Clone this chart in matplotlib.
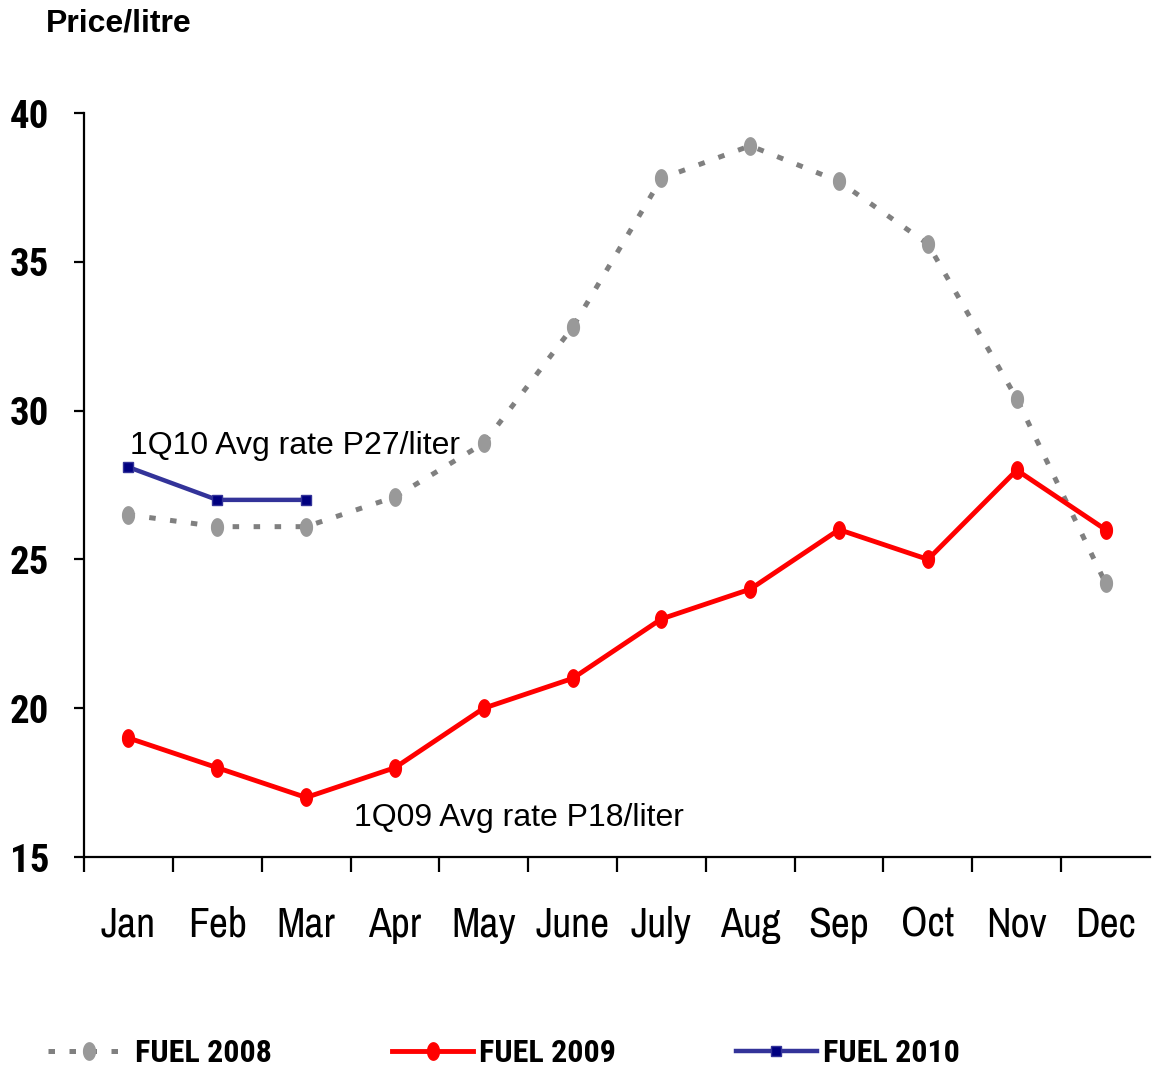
import numpy as np
import matplotlib
matplotlib.use('Agg')
import matplotlib.pyplot as plt
from matplotlib.path import Path

months = ['Jan', 'Feb', 'Mar', 'Apr', 'May', 'June', 'July', 'Aug', 'Sep', 'Oct', 'Nov', 'Dec']
fuel_2008 = [26.5, 26.1, 26.1, 27.1, 28.9, 32.8, 37.8, 38.9, 37.7, 35.6, 30.4, 24.2]
fuel_2009 = [19, 18, 17, 18, 20, 21, 23, 24, 26, 25, 28, 26]
fuel_2010 = [28.1, 27, 27]
yticks = [15, 20, 25, 30, 35, 40]

NARROW = ['Liberation Sans Narrow', 'Archivo Narrow', 'Roboto Condensed', 'DejaVu Sans']
NARROW_BOLD = ['Liberation Sans Narrow', 'Roboto Condensed', 'Barlow Semi Condensed', 'DejaVu Sans']
plt.rcParams['font.family'] = ['Liberation Sans', 'DejaVu Sans']

# tall oval marker like the spreadsheet ones
t = np.linspace(0, 2 * np.pi, 40)
oval = Path(np.column_stack([0.68 * np.cos(t), np.sin(t)]), closed=True)

fig = plt.figure(figsize=(11.58, 10.71), dpi=100)
ax = fig.add_axes([84 / 1158, 1 - 857 / 1071, 1066 / 1158, 744 / 1071])

x = np.arange(len(months))
l08, = ax.plot(x, fuel_2008, color='#808080', lw=3.6, linestyle=(0, (1.3, 2.9)),
               marker=oval, markersize=12.5, markerfacecolor='#999999',
               markeredgecolor='#999999', zorder=2)
l09, = ax.plot(x, fuel_2009, color='#ff0000', lw=3.5, marker=oval, markersize=12.5,
               markerfacecolor='#ff0000', markeredgecolor='#ff0000', zorder=3)
l10, = ax.plot(x[:len(fuel_2010)], fuel_2010, color='#333399', lw=3.2, marker='s',
               markersize=7.5, markerfacecolor='#000080', markeredgecolor='#333399',
               markeredgewidth=1, zorder=4)

ax.set_xlim(-0.5, 11.5)
ax.set_ylim(15, 40)
for s in ['top', 'right']:
    ax.spines[s].set_visible(False)
for s in ['left', 'bottom']:
    ax.spines[s].set_linewidth(1.6)

ax.set_yticks(yticks)
ax.set_yticklabels([str(v) for v in yticks], fontfamily=NARROW_BOLD, fontweight='bold', fontsize=28)
ax.tick_params(axis='y', length=7, width=1.6, pad=18)

ax.set_xticks(x)
ax.set_xticklabels(months, fontfamily=NARROW, fontsize=30)
ax.tick_params(axis='x', which='major', length=0, pad=35)
ax.set_xticks(np.arange(-0.5, 11.0, 1.0), minor=True)
ax.tick_params(axis='x', which='minor', length=11, width=1.6)

ax.text(0.02, 28.55, '1Q10 Avg rate P27/liter', fontsize=23, va='baseline', ha='left')
ax.text(2.545, 16.05, '1Q09 Avg rate P18/liter', fontsize=23, va='baseline', ha='left')

fig.text(46 / 1158, 1 - 32 / 1071, 'Price/litre', fontsize=23, fontweight='bold',
         va='baseline', ha='left')

leg = fig.legend([l08, l09, l10], ['FUEL 2008', 'FUEL 2009', 'FUEL 2010'],
                 loc='center left', bbox_to_anchor=(48 / 1158, 1 - 1053 / 1071),
                 ncol=3, frameon=False, borderpad=0, borderaxespad=0,
                 handlelength=2.55, handletextpad=0.18, columnspacing=3.75,
                 prop={'family': NARROW_BOLD, 'weight': 'bold', 'size': 23})

fig.savefig('out.png', dpi=100)
